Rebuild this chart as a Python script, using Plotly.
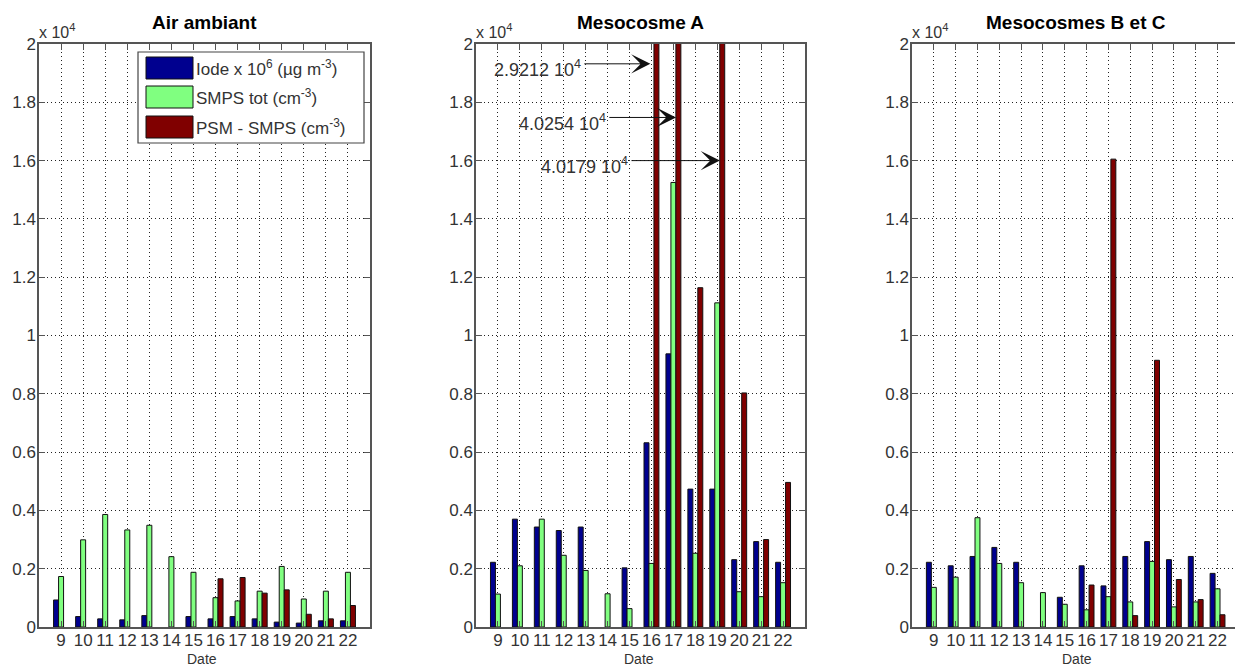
import plotly.graph_objects as go

W, H = 1235, 666

# ---------------- data ----------------
dates = list(range(9, 23))
series_names = ["Iode x 10<sup>6</sup> (µg m<sup>-3</sup>)",
                "SMPS tot (cm<sup>-3</sup>)",
                "PSM - SMPS (cm<sup>-3</sup>)"]
series_colors = ["#00008F", "#80FF80", "#800000"]
panel_titles = ["Air ambiant", "Mesocosme A", "Mesocosmes B et C"]

air_iode = [927, 358, 279, 246, 391, None, 358, 279, 358, 279, 168, 134, 212, 212]
air_smps = [1732, 2990, 3860, 3330, 3490, 2413, 1877, 1006, 894, 1229, 2078, 961, 1229, 1877]
air_psm = [None, None, None, None, None, None, None, 1654, 1698, 1162, 1274, 436, 279, 737]

mesoA_iode = [2220, 3700, 3430, 3310, 3430, None, 2030, 6320, 9370, 4730, 4730, 2310, 2930, 2220]
mesoA_smps = [1130, 2100, 3700, 2460, 1940, 1140, 630, 2180, 15250, 2530, 11120, 1210, 1040, 1520]
mesoA_psm = [None, None, None, None, None, None, None, 29212, 40254, 11640, 40179, 8030, 3000, 4960]

mesoBC_iode = [2220, 2100, 2420, 2730, 2220, None, 1020, 2100, 1410, 2420, 2930, 2310, 2420, 1840]
mesoBC_smps = [1360, 1710, 3750, 2180, 1520, 1180, 780, 590, 1040, 860, 2250, 690, 860, 1310]
mesoBC_psm = [None, None, None, None, None, None, None, 1440, 16050, 390, 9150, 1630, 940, 420]

y_tickvals = [0, 2000, 4000, 6000, 8000, 10000, 12000, 14000, 16000, 18000, 20000]
y_ticktext = ["0", "0.2", "0.4", "0.6", "0.8", "1", "1.2", "1.4", "1.6", "1.8", "2"]

# off-scale values in Mesocosme A (labelled with arrows)
off_dates = [16, 17, 19]
off_values = [29212, 40254, 40179]

panels = [
    (air_iode, air_smps, air_psm),
    (mesoA_iode, mesoA_smps, mesoA_psm),
    (mesoBC_iode, mesoBC_smps, mesoBC_psm),
]

# ---------------- layout helpers (pixels -> paper) ----------------
def px(x):
    return x / W

def py(y):
    return 1 - y / H

x_domains = [(39, 370), (476, 805), (912, 1235)]
x_ranges = [[8, 23], [8, 23], [8, 22.8]]
y_dom = [py(627), py(44)]

FONT = "Liberation Sans, Arial, Helvetica, sans-serif"
TXT = "#333333"
AX = "#555555"

fig = go.Figure()

for p, (s1, s2, s3) in enumerate(panels):
    xa = "x" if p == 0 else f"x{p+1}"
    ya = "y" if p == 0 else f"y{p+1}"
    for vals, name, col in zip((s1, s2, s3), series_names, series_colors):
        fig.add_trace(go.Bar(
            x=dates, y=vals, name=name, xaxis=xa, yaxis=ya,
            marker=dict(color=col, line=dict(color="#111111", width=1)),
            showlegend=False, hoverinfo="x+y",
        ))

layout = dict(
    width=W, height=H,
    margin=dict(l=0, r=0, t=0, b=0),
    paper_bgcolor="white", plot_bgcolor="white",
    barmode="group", bargap=0.32, bargroupgap=0,
    font=dict(family=FONT, color=TXT, size=17),
    showlegend=False,
)

for p in range(3):
    xk = "xaxis" if p == 0 else f"xaxis{p+1}"
    yk = "yaxis" if p == 0 else f"yaxis{p+1}"
    ya = "y" if p == 0 else f"y{p+1}"
    xa = "x" if p == 0 else f"x{p+1}"
    d0, d1 = x_domains[p]
    layout[xk] = dict(
        domain=[px(d0), px(d1)], range=x_ranges[p], anchor=ya,
        tickmode="array", tickvals=dates, ticktext=[str(d) for d in dates],
        ticks="inside", ticklen=6, tickwidth=1, tickcolor=AX,
        showline=True, linecolor=AX, linewidth=1.5, mirror="ticks",
        showgrid=True, gridcolor="#222222", gridwidth=1, griddash="1px,3px",
        zeroline=False, automargin=False, ticklabelstandoff=-3,
        tickfont=dict(size=17, color=TXT, family=FONT),
    )
    layout[yk] = dict(
        domain=y_dom, range=[0, 20000], anchor=xa,
        tickmode="array", tickvals=y_tickvals, ticktext=y_ticktext,
        ticks="inside", ticklen=6, tickwidth=1, tickcolor=AX,
        showline=True, linecolor=AX, linewidth=1.5,
        mirror=("ticks" if p < 2 else False),
        showgrid=True, gridcolor="#222222", gridwidth=1, griddash="1px,3px",
        zeroline=False, automargin=False, ticklabelstandoff=-2,
        tickfont=dict(size=17, color=TXT, family=FONT),
    )

fig.update_layout(**layout)

annotations = []
title_centers = [204.5, 640, 1075.5]
date_centers = [202, 639, 1077]
for p in range(3):
    annotations.append(dict(
        xref="paper", yref="paper", x=px(title_centers[p]), y=py(23),
        xanchor="center", yanchor="middle", showarrow=False,
        text=f"<b>{panel_titles[p]}</b>", font=dict(size=19, color="#000000", family=FONT),
    ))
    annotations.append(dict(
        xref="paper", yref="paper", x=px(x_domains[p][0] - 2), y=py(31),
        xanchor="left", yanchor="middle", showarrow=False,
        text="x 10<sup>4</sup>", font=dict(size=16, color=TXT, family=FONT),
    ))
    annotations.append(dict(
        xref="paper", yref="paper", x=px(date_centers[p]), y=py(659),
        xanchor="center", yanchor="middle", showarrow=False,
        text="Date", font=dict(size=14, color=TXT, family=FONT),
    ))

# arrows + labels for off-scale bars in Mesocosme A
arrow_tips_x = [15.95, 17.12, 19.12]
arrow_tails_x = [12.87, 14.01, 15.02]
arrow_y = [19320, 17480, 16000]
for d, v, tx, ax, ay in zip(off_dates, off_values, arrow_tips_x, arrow_tails_x, arrow_y):
    annotations.append(dict(
        xref="x2", yref="y2", x=tx, y=ay, axref="x2", ayref="y2", ax=ax, ay=ay,
        text="", showarrow=True, arrowhead=3, arrowsize=3.2, arrowwidth=1,
        arrowcolor="#111111", standoff=0, startstandoff=0,
    ))
    mant = v / 10000
    annotations.append(dict(
        xref="x2", yref="y2", x=ax, y=ay, xanchor="right", yanchor="middle",
        yshift=-5, showarrow=False,
        text=f"{mant:.4f} 10<sup>4</sup>", font=dict(size=18, color=TXT, family=FONT),
    ))

# manual legend (large MATLAB-style swatches)
shapes = [dict(type="rect", xref="paper", yref="paper",
               x0=px(138), x1=px(364), y0=py(143), y1=py(52),
               line=dict(color="#444444", width=1.2), fillcolor="white", layer="above")]
entry_centers = [68, 97, 127]
for name, col, cy in zip(series_names, series_colors, entry_centers):
    shapes.append(dict(type="rect", xref="paper", yref="paper",
                       x0=px(146), x1=px(193), y0=py(cy + 11), y1=py(cy - 11),
                       line=dict(color="#111111", width=1), fillcolor=col, layer="above"))
    annotations.append(dict(
        xref="paper", yref="paper", x=px(194), y=py(cy), xanchor="left", yanchor="middle",
        showarrow=False, text=name, font=dict(size=17, color=TXT, family=FONT),
    ))

fig.update_layout(annotations=annotations, shapes=shapes)

fig.write_html(
    "out.html",
    config={"displayModeBar": False},
    post_script="document.body.style.margin='0';document.body.style.padding='0';"
                "document.body.style.overflow='hidden';",
)
